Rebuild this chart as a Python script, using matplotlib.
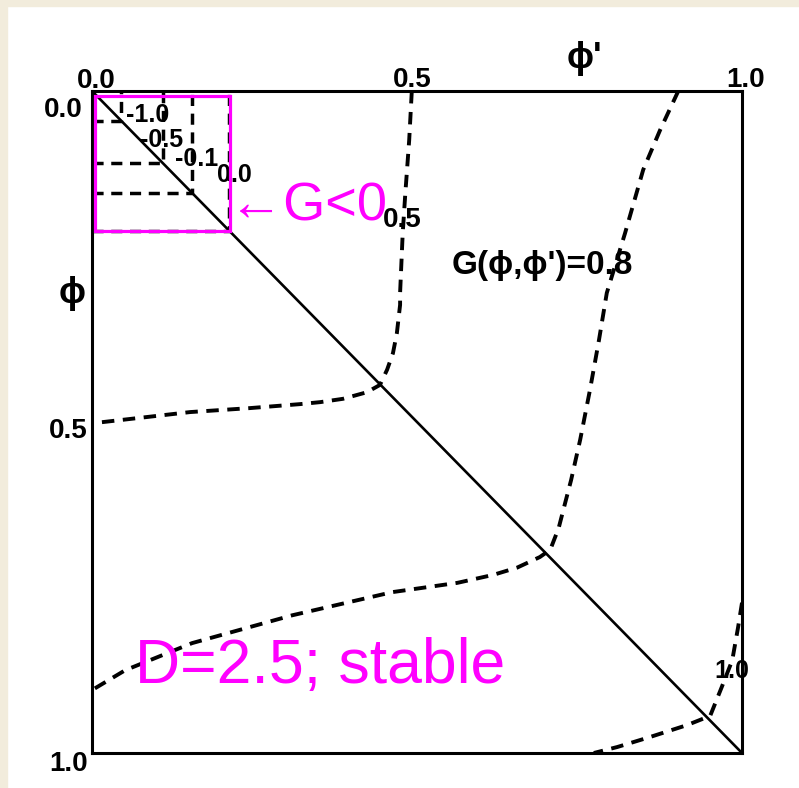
import matplotlib
matplotlib.use("Agg")
import matplotlib.pyplot as plt
from matplotlib.patches import Rectangle

# contour levels of G(phi, phi') for D = 2.5, as (phi', phi) points
g05_x = [0.492, 0.488, 0.482, 0.478, 0.474, 0.474, 0.469, 0.463, 0.454, 0.443,
         0.423, 0.386, 0.351, 0.320, 0.243, 0.151, 0.0]
g05_y = [0.0, 0.074, 0.155, 0.215, 0.305, 0.323, 0.366, 0.396, 0.421, 0.444,
         0.455, 0.465, 0.470, 0.473, 0.479, 0.485, 0.502]

g08_x = [0.902, 0.874, 0.848, 0.820, 0.792, 0.780, 0.766, 0.751, 0.737, 0.728,
         0.718, 0.705, 0.689, 0.654, 0.617, 0.562, 0.462, 0.308, 0.154, 0.051, 0.0]
g08_y = [0.0, 0.059, 0.119, 0.215, 0.305, 0.376, 0.452, 0.527, 0.588, 0.622,
         0.660, 0.693, 0.704, 0.720, 0.731, 0.743, 0.757, 0.792, 0.834, 0.875, 0.905]

g10_x = [1.0, 0.994, 0.985, 0.969, 0.951, 0.915, 0.858, 0.808, 0.772]
g10_y = [0.773, 0.810, 0.860, 0.900, 0.944, 0.958, 0.976, 0.991, 1.0]

# negative levels near the origin are square corners at phi = phi' = c
neg_levels = ["-1.0", "-0.5", "-0.1", "0.0"]
neg_corner = [0.045, 0.109, 0.154, 0.211]

LABEL_FONT = ["Liberation Sans", "DejaVu Sans"]
DASH = (0, (3.2, 2.2))

fig = plt.figure(figsize=(7.99, 7.88), dpi=100)
fig.patch.set_facecolor("white")

# cream border strips along the top and left edges
beige = "#F2ECDC"
fig.add_artist(Rectangle((0, 0), 7 / 799, 1, transform=fig.transFigure,
                         color=beige, zorder=0))
fig.add_artist(Rectangle((0, 1 - 6 / 788), 1, 6 / 788, transform=fig.transFigure,
                         color=beige, zorder=0))

ax = fig.add_axes([92 / 799, 35 / 788, 650 / 799, 662 / 788])
ax.set_xlim(0, 1)
ax.set_ylim(1, 0)
ax.set_xticks([])
ax.set_yticks([])
for sp in ax.spines.values():
    sp.set_linewidth(2.2)
    sp.set_color("black")

# diagonal phi = phi'
ax.plot([0, 1], [0, 1], color="black", lw=1.9, solid_capstyle="butt")

for xs, ys in [(g05_x, g05_y), (g08_x, g08_y), (g10_x, g10_y)]:
    ax.plot(xs, ys, color="black", lw=2.8, linestyle=DASH, clip_on=False)

for c in neg_corner:
    ax.plot([0, c, c], [c, c, 0], color="black", lw=2.5, linestyle=DASH)

txt = dict(family=LABEL_FONT, weight="bold", color="black", va="baseline",
           clip_on=False)

# axis numbers
ax.text(0.006, -0.005, "0.0", ha="center", fontsize=20, **txt)
ax.text(0.492, -0.006, "0.5", ha="center", fontsize=20, **txt)
ax.text(1.005, -0.006, "1.0", ha="center", fontsize=20, **txt)
ax.text(-0.014, 0.039, "0.0", ha="right", fontsize=20, **txt)
ax.text(-0.006, 0.524, "0.5", ha="right", fontsize=20, **txt)
ax.text(-0.006, 1.027, "1.0", ha="right", fontsize=20, **txt)
ax.text(0.758, -0.035, "ϕ'", ha="center", fontsize=26, **txt)
ax.text(-0.031, 0.32, "ϕ", ha="center", fontsize=26, **txt)

# contour labels
ax.text(0.554, 0.276, "G(ϕ,ϕ')=0.8", ha="left", fontsize=24, **txt)
ax.text(0.448, 0.205, "0.5", ha="left", fontsize=20, **txt)
ax.text(0.958, 0.887, "1.0", ha="left", fontsize=18, **txt)
small_pos = [(0.052, 0.047), (0.074, 0.085), (0.127, 0.113), (0.192, 0.137)]
for lab, (lx, ly) in zip(neg_levels, small_pos):
    ax.text(lx, ly, lab, ha="left", fontsize=18, **txt)

# G < 0 region
ax.add_patch(Rectangle((0.005, 0.008), 0.207, 0.203, fill=False,
                       edgecolor="#FF00FF", lw=2.3, zorder=5))
ax.text(0.211, 0.196, "←G<0", ha="left", va="baseline", fontsize=39,
        color="#FF00FF", family=LABEL_FONT, clip_on=False)
ax.text(0.066, 0.894, "D=2.5; stable", ha="left", va="baseline", fontsize=45,
        color="#FF00FF", family=LABEL_FONT, zorder=6)

fig.savefig("out.png", dpi=100, facecolor=fig.get_facecolor())
